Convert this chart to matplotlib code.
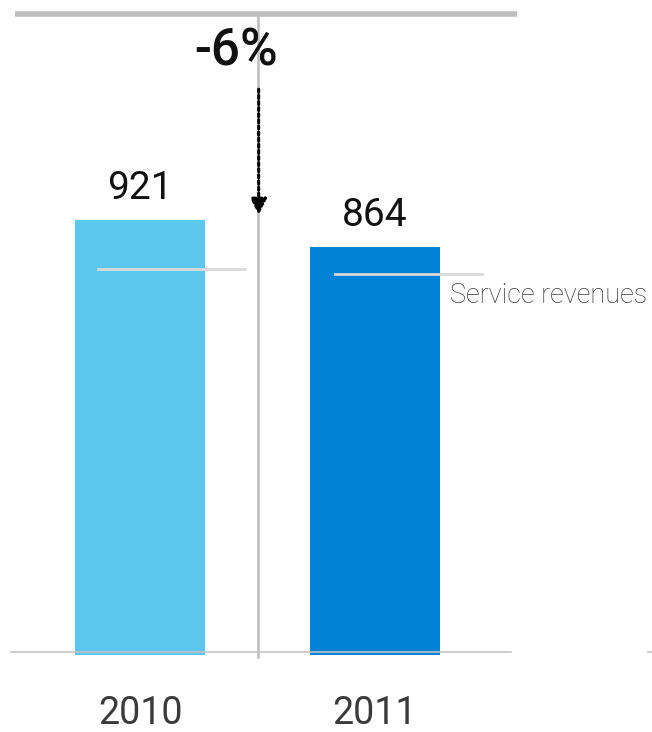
import matplotlib.pyplot as plt

years = ["2010", "2011"]
revenues = [921, 864]
change_label = "-6%"
series_label = "Service revenues"
bar_colors = ["#5CC8F0", "#0082D6"]

plt.rcParams['font.family'] = ['Roboto', 'DejaVu Sans']

fig = plt.figure(figsize=(6.52, 7.32), dpi=100)
ax = fig.add_axes([0, 0, 1, 1])
ax.set_xlim(-0.596, 2.179)
ax.set_ylim(-163, 1387)
ax.axis('off')

x = list(range(len(years)))
ax.bar(x, revenues, width=0.553, color=bar_colors, zorder=2)

# frame lines: top rule, divider, baseline
ax.plot([-0.532, 1.604], [1357, 1357], color="#bdbdbd", lw=4, solid_capstyle='butt', zorder=1)
ax.plot([0.5, 0.5], [1357, -4], color="#bdbdbd", lw=1.8, zorder=1)
ax.plot([-0.549, 1.579], [6, 6], color="#c4c4c4", lw=1.2, zorder=3)
ax.plot([2.16, 2.18], [6, 6], color="#c4c4c4", lw=1.2, zorder=3)

# value labels and year labels
for xi, v, yr in zip(x, revenues, years):
    ax.text(xi, v + 66, f"{v}", ha='center', va='center', fontsize=28,
            fontweight='normal', color="#111111")
    ax.text(xi, -124, yr, ha='center', va='center', fontsize=27,
            fontweight='normal', color="#3a3a3a")

# change arrow
ax.annotate("", xy=(0.505, revenues[0] + 11), xytext=(0.505, 1198),
            arrowprops=dict(arrowstyle='-|>', linestyle=(0, (1, 1)), lw=2.2,
                            color="black", mutation_scale=24, shrinkA=0, shrinkB=0),
            zorder=4)
ax.text(0.41, 1277, change_label, ha='center', va='center', fontsize=37,
        fontweight='medium', color="#111111")

# leader lines to series label
ax.plot([-0.179, 0.447], [818, 818], color="#d9d9d9", lw=2, zorder=3)
ax.plot([0.83, 1.455], [807, 807], color="#d9d9d9", lw=2, zorder=3)
ax.text(1.319, 762, series_label, ha='left', va='center', fontsize=19.5,
        fontweight='light', color="#3a3a3a")

plt.savefig("out.png", dpi=100)
